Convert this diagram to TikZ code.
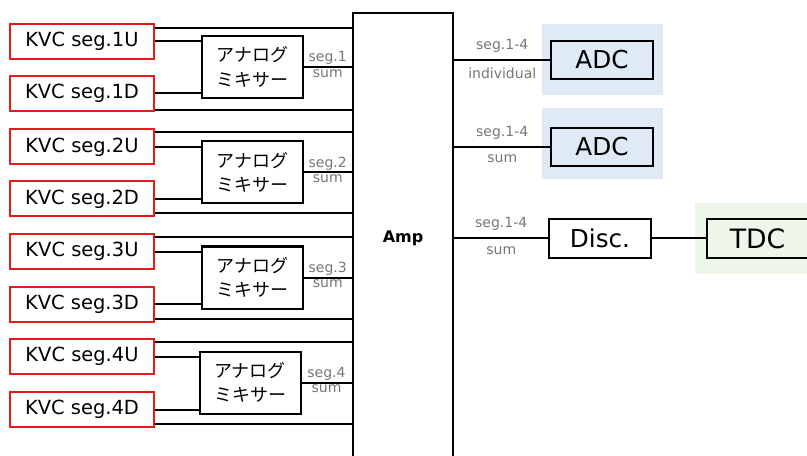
\documentclass[tikz,border=0pt]{standalone}
\usepackage{fontspec}
\setmainfont{DejaVu Sans}
\newfontfamily\jpfont{Noto Sans CJK JP}
\usetikzlibrary{positioning}
\definecolor{Cverm}{RGB}{228,28,28}
\definecolor{Cazfundo}{RGB}{222,234,246}
\definecolor{Cvdfundo}{RGB}{237,246,232}
\definecolor{Ccinza}{RGB}{118,118,118}

\begin{document}
\begin{tikzpicture}[x=0.75pt, y=-0.75pt,
  kvc/.style={draw=Cverm, line width=1.5pt, minimum width=108pt,
              minimum height=26.25pt, inner sep=0pt,
              font=\fontsize{14.6}{16}\selectfont},
  mixer/.style={draw, line width=1.5pt, minimum width=75.75pt,
                minimum height=46.5pt, inner sep=0pt, align=center,
                font=\jpfont\fontsize{13.5}{18.5}\selectfont},
  bloco/.style={draw, line width=1.5pt, minimum width=76.5pt,
                minimum height=28.5pt, inner sep=0pt,
                font=\fontsize{18.5}{20}\selectfont},
  fio/.style={line width=1.5pt},
  rotulo/.style={text=Ccinza, font=\fontsize{10.5}{12}\selectfont, inner sep=1pt}]
  \useasboundingbox (0,0) rectangle (807,456);

  % fundos
  \fill[Cazfundo] (542,24) rectangle (663,95);
  \fill[Cazfundo] (542,108) rectangle (663,179);
  \fill[Cvdfundo] (695,203) rectangle (810,274);

  % entradas
  \node[kvc] (k1u) at (82,41.5) {KVC seg.1U};
  \node[kvc] (k1d) at (82,93.5) {KVC seg.1D};
  \node[kvc] (k2u) at (82,147) {KVC seg.2U};
  \node[kvc] (k2d) at (82,199) {KVC seg.2D};
  \node[kvc] (k3u) at (82,251.5) {KVC seg.3U};
  \node[kvc] (k3d) at (82,304) {KVC seg.3D};
  \node[kvc] (k4u) at (82,356.5) {KVC seg.4U};
  \node[kvc] (k4d) at (82,409.5) {KVC seg.4D};

  \node[mixer] (m1) at (252.5,67) {アナログ\\ミキサー};
  \node[mixer] (m2) at (252.5,172.5) {アナログ\\ミキサー};
  \node[mixer] (m3) at (252.5,277.5) {アナログ\\ミキサー};
  \node[mixer] (m4) at (250,382.5) {アナログ\\ミキサー};

  \node[draw, line width=2.2pt, minimum width=75pt, minimum height=337.5pt,
        inner sep=0pt, font=\bfseries\fontsize{12}{14}\selectfont]
    (amp) at (403,238) {Amp};

  % saidas
  \node[bloco] (adc1) at (602,60) {ADC};
  \node[bloco, below=35.25pt of adc1] (adc2) {ADC};
  \node[bloco, minimum height=29.25pt] (disc) at (600,238.5) {Disc.};
  \node[bloco, minimum width=75.75pt, minimum height=29.25pt,
        font=\fontsize{20}{22}\selectfont, right=40.5pt of disc] (tdc) {TDC};

  % ligacoes diretas ao Amp
  \coordinate (t1) at ([yshift=-3.5pt]k1u.north east);
  \coordinate (b1) at ([yshift=1.5pt]k1d.south east);
  \coordinate (t2) at ([yshift=-2.5pt]k2u.north east);
  \coordinate (b2) at ([yshift=3pt]k2d.south east);
  \coordinate (t3) at ([yshift=-3pt]k3u.north east);
  \coordinate (b3) at ([yshift=3pt]k3d.south east);
  \coordinate (t4) at ([yshift=-3pt]k4u.north east);
  \coordinate (b4) at ([yshift=3pt]k4d.south east);
  \draw[fio] (t1) -- (t1 -| amp.west);
  \draw[fio] (b1) -- (b1 -| amp.west);
  \draw[fio] (t2) -- (t2 -| amp.west);
  \draw[fio] (b2) -- (b2 -| amp.west);
  \draw[fio] (t3) -- (t3 -| amp.west);
  \draw[fio] (b3) -- (b3 -| amp.west);
  \draw[fio] (t4) -- (t4 -| amp.west);
  \draw[fio] (b4) -- (b4 -| amp.west);

  % entradas dos misturadores
  \draw[fio] (k1u.east) -- (k1u.east -| m1.west);
  \draw[fio] (k1d.east) -- (k1d.east -| m1.west);
  \draw[fio] (k2u.east) -- (k2u.east -| m2.west);
  \draw[fio] (k2d.east) -- (k2d.east -| m2.west);
  \draw[fio] (k3u.east) -- (k3u.east -| m3.west);
  \draw[fio] (k3d.east) -- (k3d.east -| m3.west);
  \draw[fio] (k4u.east) -- (k4u.east -| m4.west);
  \draw[fio] (k4d.east) -- (k4d.east -| m4.west);

  \draw[fio] (m1.east) -- (m1.east -| amp.west)
    node[midway, above, rotulo] {seg.1} node[midway, below, rotulo] {sum};
  \draw[fio] (m2.east) -- (m2.east -| amp.west)
    node[midway, above, rotulo] {seg.2} node[midway, below, rotulo] {sum};
  \draw[fio] (m3.east) -- (m3.east -| amp.west)
    node[midway, above, rotulo] {seg.3} node[midway, below, rotulo] {sum};
  \draw[fio] (m4.east) -- (m4.east -| amp.west)
    node[midway, above, rotulo] {seg.4} node[midway, below, rotulo] {sum};

  \draw[fio] (adc1.west -| amp.east) -- (adc1.west)
    node[midway, above=4pt, rotulo] {seg.1-4}
    node[midway, below=4pt, rotulo] {individual};
  \draw[fio] (adc2.west -| amp.east) -- (adc2.west)
    node[midway, above=4pt, rotulo] {seg.1-4}
    node[midway, below=4pt, rotulo] {sum};
  \draw[fio] (disc.west -| amp.east) -- (disc.west)
    node[midway, above=4pt, rotulo] {seg.1-4}
    node[midway, below=4pt, rotulo] {sum};
  \draw[fio] (disc.east) -- (tdc.west);
\end{tikzpicture}
\end{document}
